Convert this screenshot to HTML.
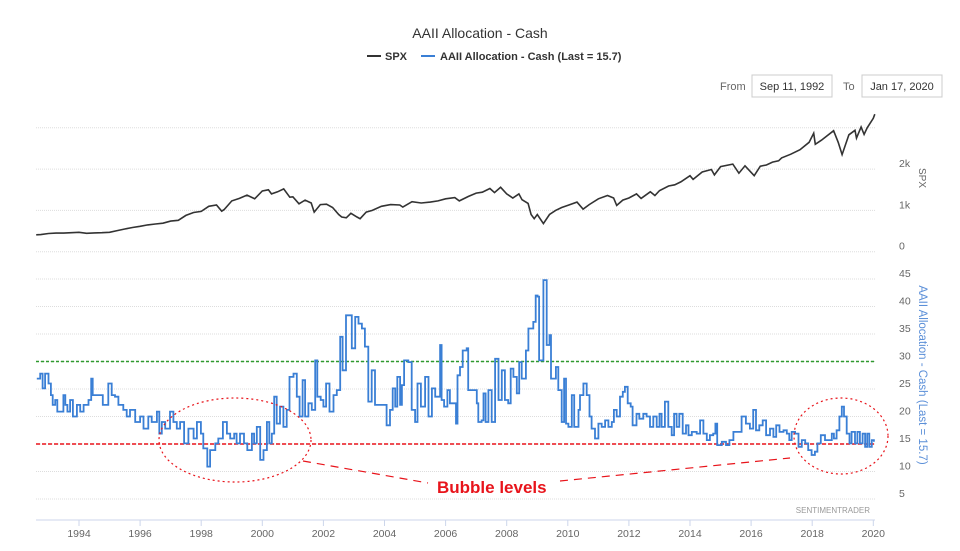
<!DOCTYPE html>
<html><head><meta charset="utf-8"><style>
body{margin:0;background:#fff;}
svg{display:block;font-family:"Liberation Sans",sans-serif;}
</style></head><body>
<svg id="chart" width="960" height="551" viewBox="0 0 960 551">
<text x="480" y="38" text-anchor="middle" font-size="14" fill="#333">AAII Allocation - Cash</text>
<g>
<g><line x1="367" y1="56" x2="381" y2="56" stroke="#333" stroke-width="2"/><text x="385" y="60" font-size="11" font-weight="bold" fill="#333">SPX</text></g>
<g><line x1="421" y1="56" x2="435" y2="56" stroke="#3a7fd5" stroke-width="2"/><text x="440" y="60" font-size="11" font-weight="bold" fill="#333">AAII Allocation - Cash (Last = 15.7)</text></g>
</g>
<g>
<text x="720" y="90" font-size="11" fill="#666">From</text>
<rect x="752" y="75" width="80" height="22" fill="#fff" stroke="#ccc"/>
<text x="792" y="90" text-anchor="middle" font-size="11" fill="#333">Sep 11, 1992</text>
<text x="843" y="90" font-size="11" fill="#666">To</text>
<rect x="862" y="75" width="80" height="22" fill="#fff" stroke="#ccc"/>
<text x="902" y="90" text-anchor="middle" font-size="11" fill="#333">Jan 17, 2020</text>
</g>
<g id="grid"></g>
<g id="axes"></g>
<g id="series"></g>
<text transform="translate(919,178) rotate(90)" text-anchor="middle" font-size="10" fill="#666">SPX</text>
<text transform="translate(919,375) rotate(90)" text-anchor="middle" font-size="11.5" fill="#5b8fd8">AAII Allocation - Cash (Last = 15.7)</text>
<text x="870" y="513" text-anchor="end" font-size="8" fill="#999">SENTIMENTRADER</text>
<g fill="none" stroke="#e8141b">
<ellipse cx="235" cy="440" rx="76" ry="42" stroke-dasharray="2,3" stroke-width="1.2"/>
<ellipse cx="841" cy="436" rx="47" ry="38" stroke-dasharray="2,3" stroke-width="1.2"/>
<line x1="303" y1="461" x2="428" y2="483" stroke-dasharray="8,6" stroke-width="1.2"/>
<line x1="560" y1="481" x2="790" y2="458" stroke-dasharray="8,6" stroke-width="1.2"/>
</g>
<text x="437" y="493" font-size="17" font-weight="bold" fill="#e8141b">Bubble levels</text>
</svg>
<script>
const xYears=[1994,1996,1998,2000,2002,2004,2006,2008,2010,2012,2014,2016,2018,2020];
const spxTicks=[0,1000,2000,3000];
const spxTickLabels=["0","1k","2k",""];
const cashTicks=[5,10,15,20,25,30,35,40,45];
const spxDates=[1992.6,1992.75,1993,1993.25,1993.5,1993.75,1994,1994.25,1994.5,1994.75,1995,1995.25,1995.5,1995.75,1996,1996.25,1996.5,1996.75,1997,1997.25,1997.5,1997.75,1998,1998.25,1998.5,1998.67,1998.75,1999,1999.25,1999.5,1999.75,2000,2000.2,2000.3,2000.5,2000.7,2000.9,2001,2001.2,2001.4,2001.6,2001.7,2001.9,2002.1,2002.3,2002.5,2002.6,2002.75,2002.9,2003.1,2003.2,2003.4,2003.6,2003.9,2004.2,2004.5,2004.6,2004.9,2005.2,2005.5,2005.75,2006,2006.3,2006.45,2006.75,2007,2007.2,2007.45,2007.6,2007.8,2008,2008.2,2008.4,2008.5,2008.7,2008.8,2008.9,2009,2009.2,2009.4,2009.6,2009.8,2010,2010.3,2010.5,2010.7,2011,2011.3,2011.5,2011.6,2011.8,2012,2012.25,2012.4,2012.7,2012.85,2013,2013.3,2013.5,2013.7,2014,2014.1,2014.4,2014.7,2014.8,2015,2015.4,2015.6,2015.8,2016.1,2016.3,2016.5,2016.7,2016.9,2017,2017.3,2017.6,2017.9,2018.05,2018.1,2018.3,2018.7,2018.85,2018.98,2019.2,2019.4,2019.45,2019.6,2019.7,2019.8,2020,2020.05];
const spxValues=[410,415,440,450,450,460,470,445,455,460,470,510,550,585,615,650,670,690,740,760,880,950,975,1100,1130,980,1020,1230,1290,1370,1280,1470,1500,1400,1450,1520,1320,1330,1160,1250,1180,960,1140,1150,1070,900,840,820,930,840,800,960,1000,1100,1140,1130,1080,1210,1180,1200,1230,1280,1310,1230,1340,1420,1440,1530,1430,1560,1400,1300,1400,1260,1170,900,800,900,680,900,1000,1070,1120,1200,1030,1140,1280,1360,1300,1120,1250,1300,1400,1290,1450,1360,1480,1590,1620,1690,1840,1750,1930,1990,1860,2060,2120,1900,2080,1840,2070,2100,2170,2200,2270,2360,2470,2650,2870,2600,2700,2930,2650,2350,2830,2940,2750,3020,2840,3000,3230,3330];
const cashDates=[1992.62,1992.73,1992.81,1992.89,1993.00,1993.08,1993.14,1993.22,1993.29,1993.44,1993.49,1993.55,1993.62,1993.71,1993.80,1993.93,1994.04,1994.15,1994.31,1994.40,1994.45,1994.58,1994.78,1994.96,1995.07,1995.18,1995.29,1995.45,1995.56,1995.67,1995.84,1996.00,1996.11,1996.27,1996.38,1996.55,1996.63,1996.71,1996.82,1996.98,1997.09,1997.20,1997.31,1997.44,1997.58,1997.75,1997.86,1997.99,1998.07,1998.20,1998.29,1998.46,1998.56,1998.71,1998.84,1998.95,1999.08,1999.16,1999.27,1999.40,1999.51,1999.66,1999.73,1999.82,1999.93,2000.04,2000.15,2000.23,2000.31,2000.39,2000.47,2000.58,2000.69,2000.80,2000.89,2001.02,2001.13,2001.22,2001.32,2001.40,2001.51,2001.62,2001.73,2001.80,2001.91,2002.00,2002.09,2002.20,2002.33,2002.44,2002.55,2002.63,2002.74,2002.87,2002.93,2003.04,2003.15,2003.26,2003.36,2003.47,2003.58,2003.69,2003.91,2004.07,2004.18,2004.27,2004.35,2004.42,2004.51,2004.57,2004.64,2004.78,2004.89,2005.00,2005.08,2005.19,2005.33,2005.44,2005.55,2005.66,2005.82,2005.87,2005.95,2006.06,2006.14,2006.25,2006.34,2006.39,2006.47,2006.56,2006.69,2006.74,2006.91,2007.02,2007.07,2007.18,2007.24,2007.31,2007.40,2007.51,2007.62,2007.73,2007.84,2007.94,2008.05,2008.13,2008.22,2008.33,2008.41,2008.49,2008.63,2008.71,2008.82,2008.87,2008.95,2009.01,2009.06,2009.15,2009.20,2009.26,2009.31,2009.40,2009.45,2009.53,2009.61,2009.69,2009.80,2009.88,2009.94,2010.02,2010.13,2010.21,2010.35,2010.40,2010.51,2010.62,2010.71,2010.78,2010.89,2011.00,2011.11,2011.22,2011.33,2011.44,2011.51,2011.60,2011.71,2011.80,2011.87,2011.96,2012.06,2012.12,2012.25,2012.34,2012.47,2012.58,2012.69,2012.80,2012.91,2013.00,2013.07,2013.18,2013.29,2013.40,2013.48,2013.56,2013.65,2013.76,2013.87,2013.95,2014.06,2014.22,2014.33,2014.44,2014.55,2014.65,2014.76,2014.83,2014.89,2015.04,2015.18,2015.29,2015.42,2015.58,2015.69,2015.83,2015.96,2016.07,2016.16,2016.27,2016.38,2016.49,2016.62,2016.73,2016.82,2016.93,2017.06,2017.17,2017.25,2017.33,2017.44,2017.55,2017.66,2017.77,2017.87,2017.98,2018.09,2018.17,2018.28,2018.42,2018.56,2018.64,2018.71,2018.80,2018.89,2018.97,2019.04,2019.13,2019.22,2019.29,2019.40,2019.48,2019.56,2019.65,2019.73,2019.80,2019.87,2019.95,2020.02];
const cashValues=[26.9,27.8,25.1,27.8,26,23.9,22.1,23,20.9,20.9,23.9,22.1,20.9,23,20,22.1,20.9,22.1,23,26.9,23.9,23.9,22.1,26,23.9,23.6,22.1,21.2,20,21.2,19,20,17.8,20,19,20.9,16.9,19,17.8,20.9,19,17.8,19,15.1,17.8,16,19,16.9,14.2,10.9,13.9,15.1,16,19,16.9,16,16.9,15.1,16.9,15.1,13.9,16.9,15.1,18.1,12.1,13.9,19,15.1,16.9,23.6,18.7,21.8,18.1,21.2,27.2,27.8,23.6,20,26.6,20,22.4,21.2,30.2,23.6,23,21.8,26,20.9,23.9,24.8,34.5,28.4,38.4,38.4,32.4,38.1,36.9,36,32.7,22.7,28.4,22.1,22.1,18.4,21.2,25.1,21.8,27.2,22.1,25.7,30.2,29.9,21.2,19,26,21.8,27.2,20,25.1,23.6,33,23,21.8,24.8,22.4,22.4,18.7,27.5,29,32,32.4,24.8,24.8,22.4,19,19.3,24.2,19,24.8,19,30.5,23,28.4,23,22.4,28.7,27.2,24.2,29.9,26.9,32,36,36,37.2,42,41.8,30.2,30.2,44.8,44.8,33,34.8,26.9,26.9,29,24.8,19,26.9,18.7,18.1,23.9,18.1,21.2,23.9,26,23.9,20,17.8,16,18.7,18.1,19.3,18.1,19,21.2,20,23.6,24.5,25.4,22.4,21.8,18.4,20.5,19.6,20.5,20,18.1,20,18.1,20.5,18.1,22.7,18.1,16.6,20.5,18.1,20.5,16.9,18.4,16.6,17.2,16.9,19.3,16.9,15.7,16.6,16.9,18.7,14.8,15.4,14.8,15.7,17.2,17.2,20,18.7,17.8,21.2,17.5,18.4,19.3,16.6,17.8,16.3,18.4,17.2,17.5,16.9,15.7,17.2,16.9,14.5,15.7,15.1,13.9,13,13.6,15.1,16.6,15.7,15.7,16.9,16,17.5,20,21.8,20,16.9,15.1,17.2,15.1,17.2,15.1,16.9,14.5,16.9,14.5,15.7,15.4];
const bubbleLevel=[15];
const fearLevel=[30];

const NS="http://www.w3.org/2000/svg";
const X0=36,X1=875;
function xs(yr){return 79+(yr-1994)*30.55;}
function ySpx(v){return 251.7-v*0.0413;}
function yCash(v){return 526.5-v*5.5;}
function mk(tag,attrs,parent){const e=document.createElementNS(NS,tag);for(const k in attrs)e.setAttribute(k,attrs[k]);parent.appendChild(e);return e;}
const grid=document.getElementById('grid'),axes=document.getElementById('axes'),series=document.getElementById('series');

spxTicks.forEach((t,i)=>{
  const y=ySpx(t);
  const l=mk('line',{x1:X0,x2:X1,y1:y,y2:y,stroke:'#ddd','stroke-dasharray':'1,1'},grid);
  
  
  const tx=mk('text',{x:899,y:y-2,'font-size':10.5,fill:'#666'},axes);
  tx.textContent=spxTickLabels[i];
  
  
});
cashTicks.forEach(t=>{
  const y=yCash(t);
  const l=mk('line',{x1:X0,x2:X1,y1:y,y2:y,stroke:'#ddd','stroke-dasharray':'1,1'},grid);
  
  
  const tx=mk('text',{x:899,y:y-2,'font-size':10.5,fill:'#666'},axes);
  tx.textContent=String(t);
  
  
});
const ax=mk('line',{x1:X0,x2:X1,y1:520,y2:520,stroke:'#ccd6eb'},axes);


xYears.forEach(yr=>{
  const x=xs(yr);
  const tk=mk('line',{x1:x,x2:x,y1:520,y2:526,stroke:'#ccd6eb'},axes);
  
  
  const tx=mk('text',{x:x,y:537,'text-anchor':'middle','font-size':10.5,fill:'#666'},axes);
  tx.textContent=String(yr);
  
  
});
fearLevel.forEach(v=>{
  const l=mk('line',{x1:X0,x2:X1,y1:yCash(v),y2:yCash(v),stroke:'#2e9a2e','stroke-width':1.5,'stroke-dasharray':'3,2'},series);
  
  
});
bubbleLevel.forEach(v=>{
  const l=mk('line',{x1:X0,x2:X1,y1:yCash(v),y2:yCash(v),stroke:'#e8141b','stroke-width':1.5,'stroke-dasharray':'4,2'},series);
  
  
});
const sp=mk('path',{d:spxDates.map((d,i)=>(i?'L':'M')+xs(d).toFixed(1)+','+ySpx(spxValues[i]).toFixed(1)).join(''),fill:'none',stroke:'#333','stroke-width':1.6},series);


let d='';
cashDates.forEach((t,i)=>{const x=xs(t).toFixed(1),y=yCash(cashValues[i]).toFixed(1);
  if(i===0)d='M'+x+','+y;else d+='H'+x+'V'+y;});
const cl=mk('path',{d:d,fill:'none',stroke:'#3a7fd5','stroke-width':1.8},series);


</script>
</body></html>
